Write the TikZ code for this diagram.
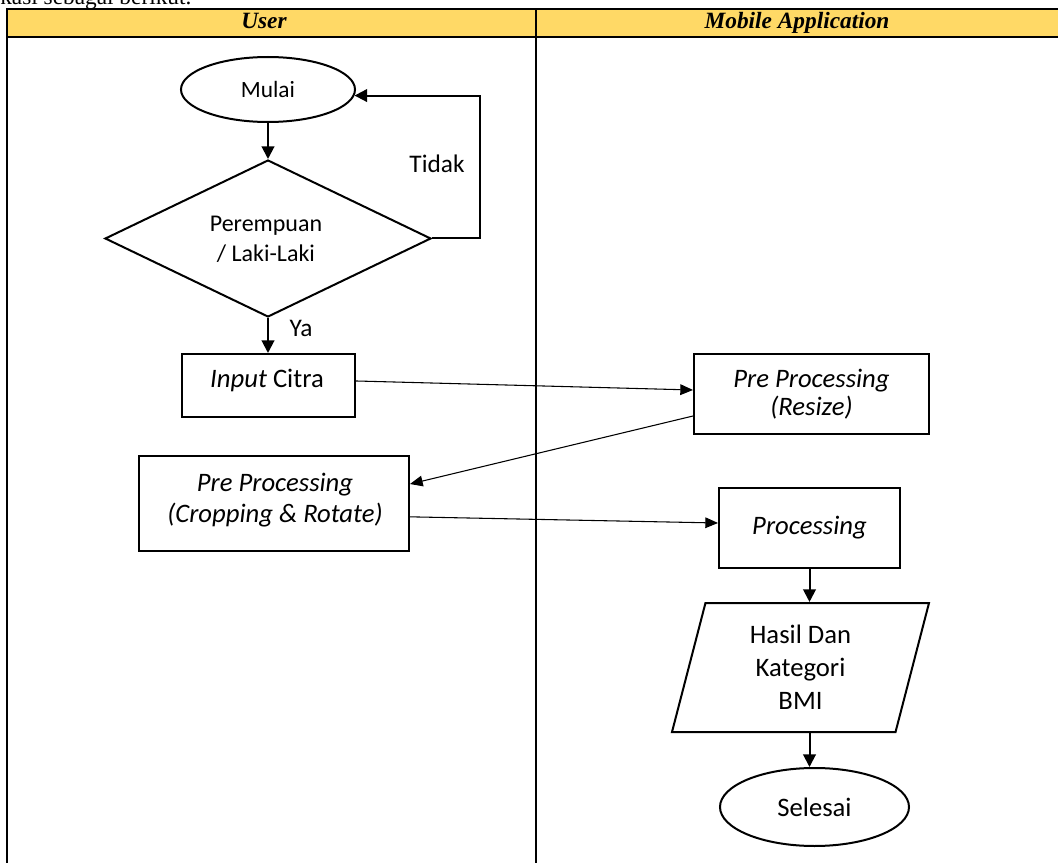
\documentclass[tikz,border=0pt]{standalone}
\usepackage{fontspec}
\setmainfont{Carlito}
\newfontfamily\hdrfont{Liberation Serif}
\usetikzlibrary{arrows.meta,shapes.geometric}
\definecolor{hdryellow}{RGB}{255,217,102}
\begin{document}
\begin{tikzpicture}[x=0.75pt,y=-0.75pt,
  every node/.style={font=\fontsize{17.5}{22}\selectfont},
  big/.style={font=\fontsize{20}{24}\selectfont},
  bigit/.style={font=\fontsize{20}{24}\selectfont\itshape},
  box/.style={draw,line width=1.5pt,inner sep=0pt},
  hdr/.style={font=\hdrfont\fontsize{17.5}{20}\selectfont\bfseries\itshape,anchor=base,inner sep=0pt},
  flow/.style={line width=1.5pt,-{Triangle[length=9.5pt,width=9.5pt]}},
  thinflow/.style={line width=0.8pt,-{Triangle[length=9.5pt,width=8pt]}},
  lane/.style={line width=1.8pt}]
\clip (0,0) rectangle (1058,863);
% intro text (cut off at the top, as in the source page)
\node[anchor=base west,inner sep=0pt,font=\hdrfont\fontsize{17.5}{20}\selectfont] (intro) at (0,5) {kasi sebagai berikut.};
% swimlane table
\fill[hdryellow] (7,9) rectangle (1058,37);
\draw[lane] (1060,9) -- (7,9) -- (7,865);
\draw[lane] (7,37) -- (1060,37);
\draw[lane] (536,9) -- (536,865);
\node[hdr] (huser) at (264,29) {User};
\node[hdr] (hmob) at (797,29) {Mobile Application};
% nodes
\node[box,ellipse,minimum width=130.5pt,minimum height=48.75pt] (mulai) at (268,89.5) {Mulai};
\node[box,diamond,minimum width=244.5pt,minimum height=117.75pt] (dia) at (268,238.5) {};
\node[align=center,font=\fontsize{18}{22.5}\selectfont] (diatext) at (266,239) {Perempuan\\/ Laki-Laki};
\node[font=\fontsize{19}{22}\selectfont] (tidak) at (437,164) {Tidak};
\node[font=\fontsize{19}{22}\selectfont] (ya) at (301,328) {Ya};
\node[box,minimum width=129.75pt,minimum height=47.25pt] (input) at (268,385.5) {};
\node[big] (inputtext) at (267,380) {\textit{Input} Citra};
\node[box,align=center,minimum width=176.25pt,minimum height=60pt,font=\fontsize{20}{21}\selectfont\itshape] (resize) at (811.5,394) {Pre Processing\\(Resize)};
\node[box,minimum width=202.5pt,minimum height=71.25pt] (crop) at (274,503.5) {};
\node[align=center,font=\fontsize{20}{23.25}\selectfont\itshape] (croptext) at (275,500) {Pre Processing\\(Cropping \& Rotate)};
\node[box,minimum width=135.75pt,minimum height=60pt,bigit] (proc) at (809.5,528) {Processing};
\node[box,trapezium,trapezium left angle=68.4,trapezium right angle=111.6,trapezium stretches body,minimum width=192.75pt,minimum height=96.75pt,align=center,font=\fontsize{20}{24.75}\selectfont] (para) at (800.5,667.5) {Hasil Dan\\Kategori\\BMI};
\node[box,ellipse,minimum width=141.75pt,minimum height=58.5pt,big] (sel) at (814.5,807) {Selesai};
% connectors
\draw[flow] (mulai.south) -- (dia.north);
\draw[flow] (dia.east) -- ++(48,0) |- (mulai.-4);
\draw[flow] (dia.south) -- (input.north);
\draw[thinflow] ([yshift=3.4pt]input.east) -- ([yshift=3pt]resize.west);
\draw[thinflow] ([yshift=-16.5pt]resize.west) -- ([yshift=14.6pt]crop.east);
\draw[thinflow] ([yshift=-10pt]crop.east) -- ([yshift=3.75pt]proc.west);
\draw[flow] (proc.south) -- (proc.south |- para.north);
\draw[flow] (proc.south |- para.south) -- (proc.south |- sel.north);
\end{tikzpicture}
\end{document}
